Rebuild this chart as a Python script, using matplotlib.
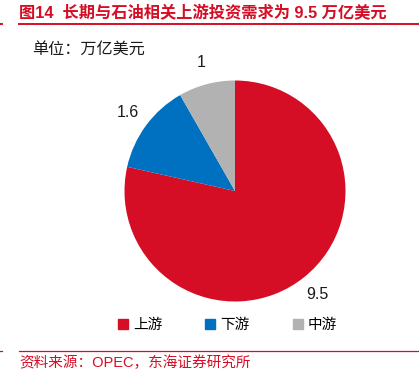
import matplotlib
matplotlib.use("Agg")
import matplotlib.pyplot as plt
from matplotlib.lines import Line2D
import numpy as np

categories = ["上游", "下游", "中游"]
values = [9.5, 1.6, 1]
value_labels = ["9.5", "1.6", "1"]
colors = ["#D50D25", "#0070C0", "#B2B2B2"]

title = "图14  长期与石油相关上游投资需求为 9.5 万亿美元"
unit = "单位：万亿美元"
source = "资料来源：OPEC，东海证券研究所"

FONT = ["Liberation Sans", "Noto Sans CJK SC"]
plt.rcParams["font.family"] = FONT

W, H = 419, 381
fig = plt.figure(figsize=(W / 100, H / 100), dpi=100)

def fx(px):
    return px / W

def fy(py):
    return 1 - py / H

# pie axes
cx, cy, r = 235, 191, 110.5
lim = 1.4
size = r * lim * 2
ax = fig.add_axes([fx(cx - size / 2), 1 - (cy + size / 2) / H, size / W, size / H])
wedges, texts = ax.pie(values, colors=colors, startangle=90, counterclock=False,
                       labels=value_labels, labeldistance=1.2,
                       wedgeprops=dict(linewidth=0),
                       textprops=dict(fontsize=11.5, color="#1a1a1a"))
for t in texts:
    t.set_ha("center")
    t.set_va("center")
ax.set_xlim(-lim, lim)
ax.set_ylim(-lim, lim)
ax.set_aspect("equal")
ax.axis("off")

red = "#D50D25"
fig.text(fx(19), fy(13), title, color=red, fontsize=11.7, fontweight="bold",
         ha="left", va="center")
fig.add_artist(Line2D([fx(19), 1], [fy(24), fy(24)], color=red, lw=1.4))
fig.add_artist(Line2D([0, fx(2)], [fy(24), fy(24)], color=red, lw=1.4))
fig.text(fx(32), fy(50), unit, color="#1a1a1a", fontsize=11.6, ha="left", va="center")

handles = [Line2D([], [], marker="s", linestyle="none", markersize=7,
                  markerfacecolor=c, markeredgecolor=c) for c in colors]
fig.legend(handles, categories, loc="center", bbox_to_anchor=(fx(227), fy(325)),
           ncol=3, frameon=False, fontsize=10.5, handlelength=0.8,
           handletextpad=0.3, columnspacing=2.9)

fig.add_artist(Line2D([fx(19), 1], [fy(350.5), fy(350.5)], color=red, lw=0.9))
fig.add_artist(Line2D([0, fx(2)], [fy(350.5), fy(350.5)], color=red, lw=0.9))
fig.text(fx(19), fy(363), source, color=red, fontsize=10.5, ha="left", va="center")

fig.savefig("out.png", dpi=100)
